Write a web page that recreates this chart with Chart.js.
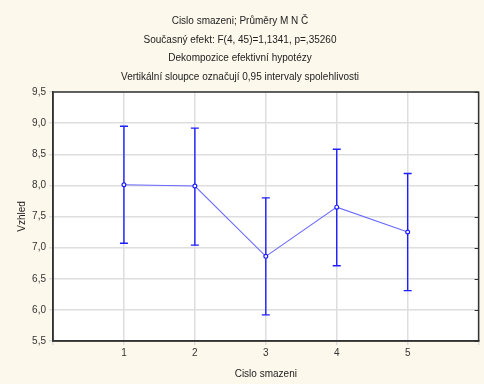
<!DOCTYPE html>
<html>
<head>
<meta charset="utf-8">
<script src="https://cdn.jsdelivr.net/npm/chart.js@4"></script>
<style>
  body { margin: 0; background: #fcf8ec; }
  canvas { display: block; }
</style>
</head>
<body>
<canvas id="myChart" width="484" height="384"></canvas>
<script>
// Data
const smazeni = [1, 2, 3, 4, 5];
const prumery = [8.01, 7.99, 6.86, 7.65, 7.25];
const dolni = [7.07, 7.04, 5.92, 6.71, 6.31];
const horni = [8.95, 8.92, 7.80, 8.58, 8.19];
const titleLines = [
    'Cislo smazeni; Průměry M N Č',
    'Současný efekt: F(4, 45)=1,1341, p=,35260',
    'Dekompozice efektivní hypotézy',
    'Vertikální sloupce označují 0,95 intervaly spolehlivosti'
];

const FONT = 'Liberation Sans, Arial, sans-serif';
const BLUE = '#1e1eff';

// Means line first so it is drawn on top
const datasets = [{
    data: smazeni.map((x, i) => ({ x: x, y: prumery[i] })),
    showLine: true,
    borderColor: '#6a6aff',
    borderWidth: 1.1,
    pointRadius: 1.9,
    pointBackgroundColor: '#ffffff',
    pointBorderColor: BLUE,
    pointBorderWidth: 1.2
}];

// Error bars: one small dataset per category, caps drawn as 'line' points
smazeni.forEach((x, i) => {
    datasets.push({
        data: [{ x: x, y: dolni[i] }, { x: x, y: horni[i] }],
        showLine: true,
        borderColor: BLUE,
        borderWidth: 1.4,
        pointStyle: 'line',
        pointRadius: 4,
        pointBorderColor: BLUE,
        pointBorderWidth: 1.4
    });
});

// Background, white plot area, frame and inner right-side ticks
const frame = {
    id: 'frame',
    beforeDraw(chart) {
        const { ctx, chartArea: a } = chart;
        ctx.save();
        ctx.fillStyle = '#fcf8ec';
        ctx.fillRect(0, 0, chart.width, chart.height);
        ctx.fillStyle = '#ffffff';
        ctx.fillRect(a.left, a.top, a.right - a.left, a.bottom - a.top);
        ctx.restore();
    },
    afterDraw(chart) {
        const { ctx, chartArea: a } = chart;
        const ys = chart.scales.y;
        ctx.save();
        ctx.strokeStyle = '#333333';
        ctx.lineWidth = 1.5;
        ctx.strokeRect(a.left, a.top, a.right - a.left, a.bottom - a.top);
        ctx.lineWidth = 1;
        ys.ticks.forEach(t => {
            const py = Math.round(ys.getPixelForValue(t.value)) + 0.5;
            ctx.beginPath();
            ctx.moveTo(a.right - 4, py);
            ctx.lineTo(a.right, py);
            ctx.stroke();
        });
        ctx.restore();
    }
};

const ctx = document.getElementById('myChart').getContext('2d');
new Chart(ctx, {
    type: 'scatter',
    data: { datasets: datasets },
    options: {
        responsive: false,
        animation: false,
        layout: { padding: { left: 0, right: 4, top: 0, bottom: 0 } },
        plugins: {
            legend: { display: false },
            tooltip: { enabled: false },
            title: {
                display: true,
                text: titleLines,
                color: '#222222',
                font: { family: FONT, size: 10, weight: 'normal', lineHeight: 1.85 },
                padding: { top: 12, bottom: 6 }
            }
        },
        scales: {
            x: {
                type: 'linear',
                min: 0,
                max: 6,
                afterFit: s => { s.height = 43; },
                ticks: {
                    stepSize: 1,
                    color: '#333333',
                    padding: 2,
                    font: { family: FONT, size: 10 },
                    callback: v => (v >= 1 && v <= 5) ? String(v) : ''
                },
                grid: { color: '#dedede', lineWidth: 1.5, tickLength: 4 },
                border: { color: '#333333', width: 1.5 },
                title: {
                    display: true,
                    text: 'Cislo smazeni',
                    color: '#222222',
                    font: { family: FONT, size: 10 },
                    padding: { top: 0, bottom: 4 }
                }
            },
            y: {
                min: 5.5,
                max: 9.5,
                afterFit: s => { s.width = 53; },
                ticks: {
                    stepSize: 0.5,
                    color: '#333333',
                    padding: 3,
                    font: { family: FONT, size: 10 },
                    callback: v => v.toFixed(1).replace('.', ',')
                },
                grid: { color: '#dedede', lineWidth: 1.5, tickLength: 4 },
                border: { color: '#333333', width: 1.5 },
                title: {
                    display: true,
                    text: 'Vzhled',
                    color: '#222222',
                    font: { family: FONT, size: 10 },
                    padding: { top: 16, bottom: 0 }
                }
            }
        }
    },
    plugins: [frame]
});
</script>
</body>
</html>
